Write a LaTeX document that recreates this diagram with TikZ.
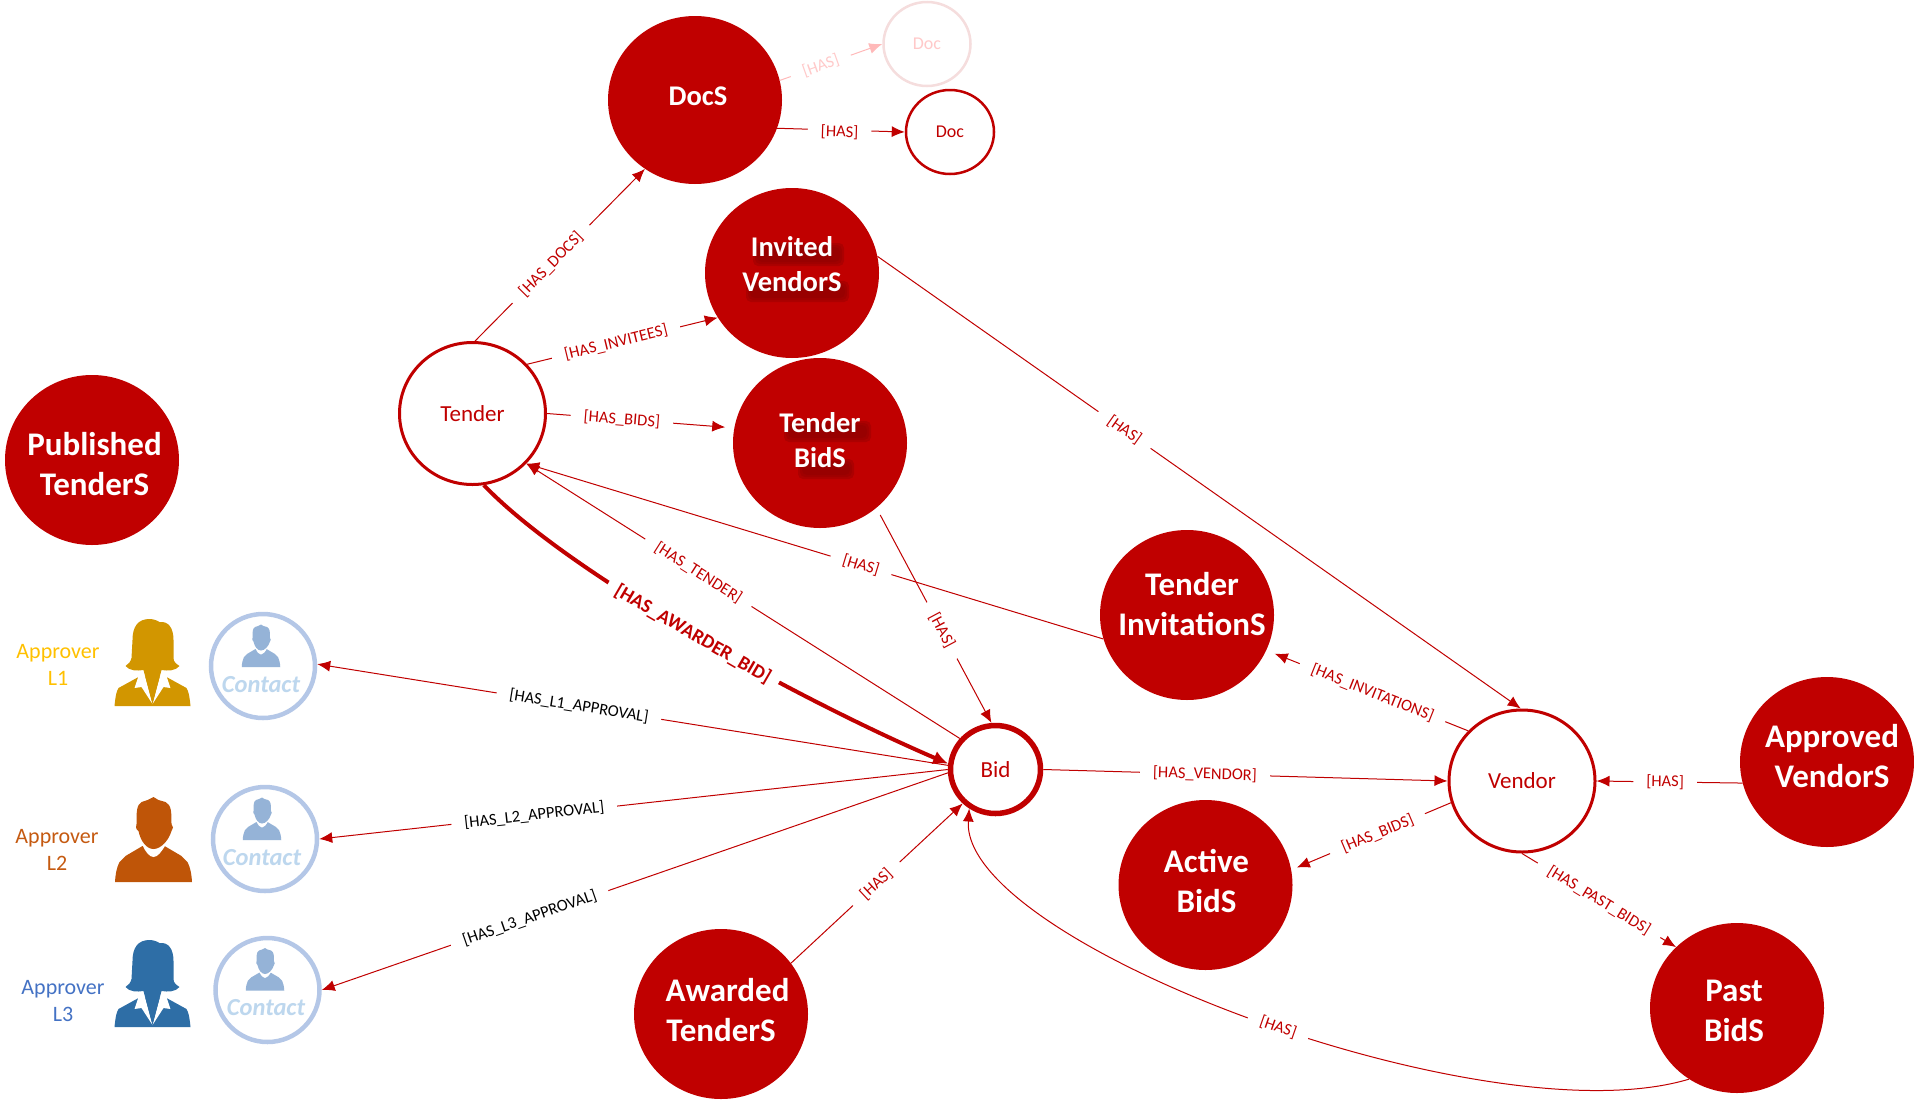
\documentclass[tikz,border=0pt]{standalone}
\usepackage{fontspec}
\setmainfont{Carlito}
\usetikzlibrary{shapes.geometric, arrows.meta}

\definecolor{bidred}{HTML}{C00000}
\definecolor{shadered}{HTML}{8E0000}
\definecolor{fadeline}{HTML}{FFB9B9}
\definecolor{fadetext}{HTML}{FFC9C9}
\definecolor{fadering}{HTML}{F5DDDD}
\definecolor{contactring}{HTML}{B4C7E7}
\definecolor{contacttext}{HTML}{BDD7EE}
\definecolor{contacticon}{HTML}{95B3D7}

% text of a filled node, moved by dx and dy, it does not size the node
\newcommand{\ntxt}[3]{\raisebox{#2}[0pt][0pt]{\makebox[0pt]{\hspace*{#1}\hspace*{#1}\begin{tabular}{@{}c@{}}#3\end{tabular}}}}
\newcommand{\shadebar}[4]{\foreach \g in {4,2,0}
    {\fill[shadered, opacity=.4, rounded corners=5pt] (#1-\g,#2-\g) rectangle (#3+\g,#4+\g);}}

\tikzset{
    bignode/.style={ellipse, fill=bidred, text=white, inner sep=0pt,
        minimum width=174pt, minimum height=170pt, font=\fontsize{33}{40}\selectfont\bfseries},
    midnode/.style={bignode, font=\fontsize{28.5}{34.5}\selectfont\bfseries},
    ringnode/.style={ellipse, draw=bidred, fill=white, text=bidred, line width=3pt, inner sep=0pt,
        font=\fontsize{23}{27}\selectfont},
    contactnode/.style={ellipse, draw=contactring, fill=white, line width=4.5pt, inner sep=0pt,
        minimum width=104pt, minimum height=104pt},
    contacttxt/.style={text=contacttext, inner sep=0pt, font=\fontsize{24.5}{28}\selectfont\bfseries\itshape},
    apprtxt/.style={align=center, inner sep=0pt, font=\fontsize{22}{27}\selectfont},
    relline/.style={draw=bidred, line width=1pt, -{Latex[length=13pt,width=11pt]}},
    rellbl/.style={fill=white, text=bidred, sloped, inner xsep=13pt, inner ysep=0pt,
        font=\fontsize{16.5}{18}\selectfont},
    blacklbl/.style={rellbl, text=black},
    pics/femaleicon/.style={code={
        \path[pic actions] (-38,0) .. controls (-37,-10) and (-36,-15) .. (-34,-18) -- (-14,-29) -- (14,-29)
            -- (34,-18) .. controls (36,-15) and (37,-10) .. (38,0) -- cycle;
        \fill[white] (-14,-30) -- (-18,-18) -- (-11,-19) -- (0,-2) -- (-9,-36) -- cycle;
        \fill[white] (14,-30) -- (18,-18) -- (11,-19) -- (0,-2) -- (9,-36) -- cycle;
        \path[pic actions] (-3,-87) .. controls (-14,-87) and (-20,-80) .. (-20,-66) -- (-21,-48)
            .. controls (-22,-44) and (-24,-42) .. (-27,-40) .. controls (-23,-35) and (-15,-35) .. (-9,-36)
            -- (0,-2) -- (9,-36) .. controls (15,-35) and (23,-35) .. (27,-40)
            .. controls (24,-42) and (21,-44) .. (21,-48) -- (21,-66)
            .. controls (21,-78) and (16,-85) .. (7,-84) .. controls (4,-86) and (0,-87) .. (-3,-87) -- cycle;
    }},
    pics/maleicon/.style={code={
        \path[pic actions] (-38.5,0) .. controls (-38,-8) and (-37,-14) .. (-34,-20) -- (-28,-26) -- (-11,-36) -- (11,-36)
            -- (28,-26) -- (34,-20) .. controls (37,-14) and (38,-8) .. (38.5,0) -- cycle;
        \fill[white] (-11,-37) .. controls (-8,-30) and (-4,-25) .. (0,-25)
            .. controls (4,-25) and (8,-30) .. (12,-37) -- cycle;
        \path[pic actions] (0,-85) -- (-6,-82) -- (-12,-80) .. controls (-17,-77) and (-17,-70) .. (-17,-58)
            .. controls (-18,-56) and (-18,-53) .. (-15,-51) .. controls (-13,-41) and (-7,-33) .. (0,-33)
            .. controls (7,-33) and (15,-41) .. (18,-51) .. controls (20,-53) and (20,-56) .. (18,-58)
            .. controls (18,-70) and (18,-77) .. (12,-80) -- (5,-82) -- cycle;
    }},
}

\begin{document}
\begin{tikzpicture}[x=1pt, y=-1pt]
        \useasboundingbox (0,0) rectangle (1914,1119);

        % collections
        \node[bignode] (published) at (92,460) {\ntxt{2.5pt}{-13.5pt}{Published\\TenderS}};
        \node[midnode, minimum height=168pt] (docs) at (695,100) {\ntxt{3pt}{-4.5pt}{DocS}};
        \node[midnode, path picture={
            \begin{scope}[shift={(path picture bounding box.center)}, x=1pt, y=-1pt]
                \shadebar{-35}{-26}{48}{-11}
                \shadebar{-42}{12}{53}{25}
            \end{scope}}] (invited) at (792,273) {\ntxt{0pt}{-.5pt}{Invited\\VendorS}};
        \node[midnode, path picture={
            \begin{scope}[shift={(path picture bounding box.center)}, x=1pt, y=-1pt]
                \shadebar{-32}{-18}{47}{-5}
                \shadebar{-18}{20}{30}{32}
            \end{scope}}] (tbids) at (820,443) {\ntxt{0pt}{-6.5pt}{Tender\\BidS}};
        \node[bignode] (invitations) at (1187,615) {\ntxt{5pt}{1.5pt}{Tender\\InvitationS}};
        \node[bignode] (active) at (1205.5,885) {\ntxt{1pt}{-6pt}{Active\\BidS}};
        \node[bignode] (approved) at (1827,762) {\ntxt{5pt}{-4pt}{Approved\\VendorS}};
        \node[bignode] (pastbids) at (1737,1008) {\ntxt{-3pt}{-11.5pt}{Past\\BidS}};
        \node[bignode] (awarded) at (721,1014) {\ntxt{0pt}{-5.5pt}{\hspace*{13pt}Awarded\\TenderS}};

        % entities
        \node[ringnode, minimum width=146pt, minimum height=142pt] (tender) at (472.5,413.5) {Tender};
        \node[ringnode, minimum width=146pt, minimum height=142pt] (vendor) at (1522,781) {Vendor};
        \node[ringnode, line width=5.5pt, minimum width=90pt, minimum height=88pt] (bid) at (995.5,769.5) {Bid};
        \node[ringnode, line width=2.5pt, minimum width=88pt, minimum height=84pt,
            font=\fontsize{18}{22}\selectfont] (doc) at (950,132) {Doc};
        \node[ringnode, draw=fadering, text=fadetext, line width=2.5pt, minimum width=87pt, minimum height=84pt,
            font=\fontsize{18}{22}\selectfont] (docfade) at (927,44) {Doc};

        % approvers
        \node[contactnode] (contactone) at (263,666) {};
        \node[contactnode] (contacttwo) at (265,839) {};
        \node[contactnode] (contactthree) at (267.5,990) {};
        \pic[fill=contacticon, scale=.5] at (261,667) {maleicon};
        \pic[fill=contacticon, scale=.5] at (262,840) {maleicon};
        \pic[fill=contacticon, scale=.5] at (265,990.5) {maleicon};
        \node[contacttxt] (ctxtone) at (261,685) {Contact};
        \node[contacttxt] (ctxttwo) at (262,858) {Contact};
        \node[contacttxt] (ctxtthree) at (266,1008) {Contact};
        \pic[fill={rgb,255:red,210;green,150;blue,0}] at (152.5,706) {femaleicon};
        \pic[fill={rgb,255:red,191;green,85;blue,8}] at (153.5,882) {maleicon};
        \pic[fill={rgb,255:red,46;green,110;blue,166}] at (152.5,1027) {femaleicon};
        \node[apprtxt, text={rgb,255:red,255;green,192;blue,0}] (approne) at (58,665) {Approver\\L1};
        \node[apprtxt, text={rgb,255:red,197;green,90;blue,17}] (apprtwo) at (57,850) {Approver\\L2};
        \node[apprtxt, text={rgb,255:red,68;green,114;blue,196}] (apprthree) at (63,1001) {Approver\\L3};

        % relations
        \draw[relline] (tender.88) -- node[rellbl, pos=.447] {[HAS\_DOCS]} (docs.234);
        \draw[relline] (tender.42) -- node[rellbl, pos=.466] {[HAS\_INVITEES]} (invited.211);
        \draw[relline, shorten >=9pt] (tender.0) -- node[rellbl, pos=.40] {[HAS\_BIDS]} (tbids.170);
        \draw[relline] (invited.11) -- node[rellbl, pos=.384] {[HAS]} (vendor.91);
        \draw[relline] (invitations.196) -- node[rellbl, pos=.42] {[HAS]} (tender.317);
        \draw[relline] (bid.139) -- node[rellbl, pos=.603] {[HAS\_TENDER]} (tender.317);
        \draw[relline, shorten <=8pt] (tbids.311) -- node[rellbl, pos=.57] {[HAS]} (bid.95);
        \draw[relline] (bid.175) -- node[blacklbl, pos=.585] {[HAS\_L1\_APPROVAL]} (contactone.2);
        \draw[relline] (bid.180) -- node[blacklbl, pos=.658] {[HAS\_L2\_APPROVAL]} (contacttwo.0);
        \draw[relline] (bid.184) -- node[blacklbl, pos=.668] {[HAS\_L3\_APPROVAL]} (contactthree.0);
        \draw[relline] (awarded.36) -- node[rellbl, pos=.497] {[HAS]} (bid.226);
        \draw[relline] (bid.0) -- node[rellbl, pos=.40] {[HAS\_VENDOR]} (vendor.180);
        \draw[relline, shorten >=9pt] (vendor.137) -- node[rellbl, pos=.474] {[HAS\_INVITATIONS]} (invitations.336);
        \draw[relline, shorten >=6pt] (vendor.197) -- node[rellbl, pos=.46] {[HAS\_BIDS]} (active.10);
        \draw[relline] (approved.194) -- node[rellbl, pos=.53] {[HAS]} (vendor.0);
        \draw[relline] (vendor.270) -- node[rellbl, pos=.50] {[HAS\_PAST\_BIDS]} (pastbids.135);
        \draw[relline] (pastbids.236) .. controls (1487,1140) and (960,943) .. node[rellbl, pos=.47] {[HAS]} (bid.236);
        \draw[relline, line width=4pt, -{Latex[length=15pt,width=14pt]}] (tender.279) .. controls (570,575) and (800,700) ..
            node[rellbl, pos=.5, inner xsep=10pt, font=\fontsize{19.5}{22}\selectfont\bfseries] {[HAS\_AWARDER\_BID]} (bid.173);
        \draw[relline] (docs.341) -- node[rellbl, pos=.49, yshift=-2pt] {[HAS]} (doc.180);
        \draw[relline, draw=fadeline] (docs.13) -- node[rellbl, pos=.40, text=fadetext] {[HAS]} (docfade.180);
    \end{tikzpicture}
\end{document}
